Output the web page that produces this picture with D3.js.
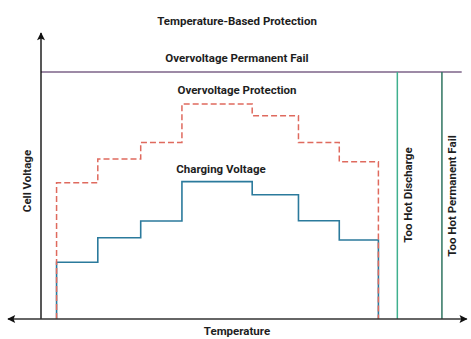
<!DOCTYPE html>
<html>
<head>
<meta charset="utf-8">
<script src="https://cdn.jsdelivr.net/npm/d3@7"></script>
<style>
  html, body { margin: 0; padding: 0; background: #fff; }
  text { font-family: Roboto, "Liberation Sans", sans-serif; font-weight: 700; fill: #1e1e1e; }
</style>
</head>
<body>
<svg id="chart" width="471" height="339"></svg>
<script>
// Temperature breakpoints (relative temperature, 0–100)
const stepTemps = [3.7, 13.5, 23.7, 33.5, 50.2, 61.2, 70.9, 80.2];
// Voltage levels for each temperature band (relative, 100 = permanent-fail level)
const chargingVoltage = [23.0, 32.9, 39.7, 55.6, 50.3, 39.8, 32.0];
const overvoltageProtection = [55.2, 64.8, 71.5, 87.0, 82.3, 71.5, 63.7];
const permanentFailVoltage = 100;
const tooHotDischargeTemp = 84.7;
const tooHotPermanentFailTemp = 95.3;

const labels = {
  title: "Temperature-Based Protection",
  permFail: "Overvoltage Permanent Fail",
  ovp: "Overvoltage Protection",
  charging: "Charging Voltage",
  xAxis: "Temperature",
  yAxis: "Cell Voltage",
  hotDischarge: "Too Hot Discharge",
  hotPermFail: "Too Hot Permanent Fail"
};

const svg = d3.select("#chart");
const x = d3.scaleLinear().domain([0, 100]).range([41, 461.7]);
const y = d3.scaleLinear().domain([0, 100]).range([319, 72]);

// Arrowheads for the axes
const defs = svg.append("defs");
defs.append("marker")
  .attr("id", "arrow")
  .attr("viewBox", "0 0 10 10")
  .attr("refX", 9).attr("refY", 5)
  .attr("markerWidth", 11).attr("markerHeight", 8)
  .attr("markerUnits", "userSpaceOnUse")
  .attr("orient", "auto-start-reverse")
  .append("path")
  .attr("d", "M0,0 L10,5 L0,10 L2,5 Z")
  .attr("fill", "#111");

// Step series: rise from the axis, follow the bands, drop back to the axis
function stepPoints(levels) {
  const pts = [[stepTemps[0], 0]];
  levels.forEach((v, i) => pts.push([stepTemps[i], v]));
  pts.push([stepTemps[stepTemps.length - 1], levels[levels.length - 1]]);
  pts.push([stepTemps[stepTemps.length - 1], 0]);
  return pts;
}
const stepLine = d3.line().x(d => x(d[0])).y(d => y(d[1])).curve(d3.curveStepAfter);

// Permanent-fail voltage limit
svg.append("line")
  .attr("x1", x(0)).attr("x2", x(100))
  .attr("y1", y(permanentFailVoltage)).attr("y2", y(permanentFailVoltage))
  .attr("stroke", "#7d6388").attr("stroke-width", 1.3);

// Temperature limits
svg.append("line")
  .attr("x1", x(tooHotDischargeTemp)).attr("x2", x(tooHotDischargeTemp))
  .attr("y1", y(permanentFailVoltage)).attr("y2", y(0))
  .attr("stroke", "#3fb08e").attr("stroke-width", 1.5);
svg.append("line")
  .attr("x1", x(tooHotPermanentFailTemp)).attr("x2", x(tooHotPermanentFailTemp))
  .attr("y1", y(permanentFailVoltage)).attr("y2", y(0))
  .attr("stroke", "#2f7460").attr("stroke-width", 1.5);

// Charging voltage
svg.append("path")
  .attr("d", stepLine(stepPoints(chargingVoltage)))
  .attr("fill", "none").attr("stroke", "#2b7a9c").attr("stroke-width", 1.6);

// Overvoltage protection
svg.append("path")
  .attr("d", stepLine(stepPoints(overvoltageProtection)))
  .attr("fill", "none").attr("stroke", "#df6a5e").attr("stroke-width", 1.5)
  .attr("stroke-dasharray", "6,3");

// Axes
svg.append("line")
  .attr("x1", x(0)).attr("x2", x(0))
  .attr("y1", y(0)).attr("y2", y(115.8))
  .attr("stroke", "#111").attr("stroke-width", 1.4)
  .attr("marker-end", "url(#arrow)");
svg.append("line")
  .attr("x1", 8).attr("x2", x(101.2))
  .attr("y1", y(0)).attr("y2", y(0))
  .attr("stroke", "#333").attr("stroke-width", 1.6)
  .attr("marker-start", "url(#arrow)")
  .attr("marker-end", "url(#arrow)");

// Labels
const fs = "11.5px";
svg.append("text").attr("x", 237).attr("y", 25).attr("text-anchor", "middle")
  .style("font-size", fs).text(labels.title);
svg.append("text").attr("x", 237).attr("y", 62).attr("text-anchor", "middle")
  .style("font-size", fs).text(labels.permFail);
svg.append("text").attr("x", 237).attr("y", 94).attr("text-anchor", "middle")
  .style("font-size", fs).text(labels.ovp);
svg.append("text").attr("x", 221).attr("y", 173).attr("text-anchor", "middle")
  .style("font-size", fs).text(labels.charging);
svg.append("text").attr("x", 237).attr("y", 335).attr("text-anchor", "middle")
  .style("font-size", fs).text(labels.xAxis);
svg.append("text").attr("transform", "translate(31,181) rotate(-90)").attr("text-anchor", "middle")
  .style("font-size", fs).text(labels.yAxis);
svg.append("text").attr("transform", "translate(411.5,195) rotate(-90)").attr("text-anchor", "middle")
  .style("font-size", fs).text(labels.hotDischarge);
svg.append("text").attr("transform", "translate(456,196) rotate(-90)").attr("text-anchor", "middle")
  .style("font-size", fs).text(labels.hotPermFail);
</script>
</body>
</html>
